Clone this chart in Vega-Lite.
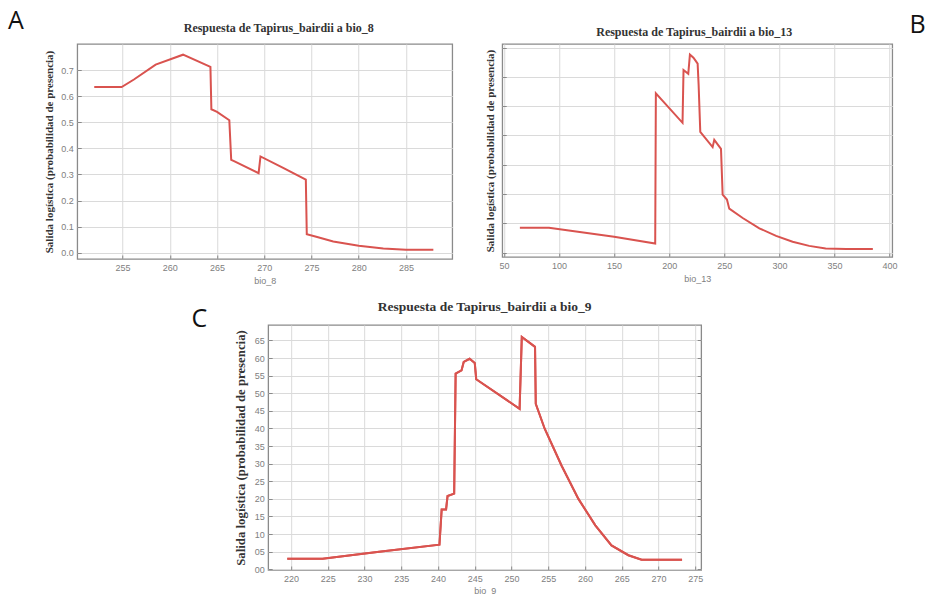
{
  "$schema": "https://vega.github.io/schema/vega-lite/v6.json",
  "background": "white",
  "padding": {"left": 8, "top": 9, "right": 0, "bottom": 0},
  "datasets": {
    "bio8": [
      {"x": 252.0, "y": 0.635}, {"x": 254.9, "y": 0.635}, {"x": 256.2, "y": 0.664}, {"x": 258.5, "y": 0.721},
      {"x": 261.4, "y": 0.759}, {"x": 264.3, "y": 0.712}, {"x": 264.4, "y": 0.550}, {"x": 265.0, "y": 0.540},
      {"x": 266.3, "y": 0.508}, {"x": 266.5, "y": 0.356}, {"x": 266.8, "y": 0.351}, {"x": 269.4, "y": 0.305},
      {"x": 269.6, "y": 0.369}, {"x": 272.0, "y": 0.325}, {"x": 274.4, "y": 0.280}, {"x": 274.5, "y": 0.071},
      {"x": 275.6, "y": 0.060}, {"x": 277.3, "y": 0.043}, {"x": 280.0, "y": 0.027}, {"x": 282.6, "y": 0.016},
      {"x": 285.0, "y": 0.011}, {"x": 287.9, "y": 0.011}
    ],
    "bio13": [
      {"x": 64.5, "y": 0.085}, {"x": 90.9, "y": 0.085}, {"x": 150.0, "y": 0.054}, {"x": 187.3, "y": 0.031},
      {"x": 187.9, "y": 0.544}, {"x": 212.1, "y": 0.443}, {"x": 213.0, "y": 0.623}, {"x": 217.3, "y": 0.610},
      {"x": 218.8, "y": 0.676}, {"x": 222.0, "y": 0.665}, {"x": 225.8, "y": 0.645}, {"x": 226.7, "y": 0.573},
      {"x": 228.2, "y": 0.412}, {"x": 239.4, "y": 0.360}, {"x": 240.9, "y": 0.385}, {"x": 247.0, "y": 0.354},
      {"x": 248.5, "y": 0.198}, {"x": 252.4, "y": 0.181}, {"x": 254.5, "y": 0.150}, {"x": 266.7, "y": 0.118},
      {"x": 281.8, "y": 0.083}, {"x": 297.0, "y": 0.057}, {"x": 312.0, "y": 0.037}, {"x": 327.0, "y": 0.023},
      {"x": 342.0, "y": 0.014}, {"x": 360.6, "y": 0.012}, {"x": 384.8, "y": 0.012}
    ],
    "bio9": [
      {"x": 219.5, "y": 0.030}, {"x": 224.3, "y": 0.030}, {"x": 232.0, "y": 0.050}, {"x": 240.2, "y": 0.070},
      {"x": 240.5, "y": 0.170}, {"x": 241.1, "y": 0.170}, {"x": 241.3, "y": 0.208}, {"x": 242.2, "y": 0.215},
      {"x": 242.4, "y": 0.556}, {"x": 243.2, "y": 0.565}, {"x": 243.5, "y": 0.589}, {"x": 244.3, "y": 0.598},
      {"x": 245.0, "y": 0.586}, {"x": 245.2, "y": 0.540}, {"x": 251.1, "y": 0.456}, {"x": 251.4, "y": 0.660},
      {"x": 253.2, "y": 0.632}, {"x": 253.3, "y": 0.470}, {"x": 254.5, "y": 0.400}, {"x": 256.8, "y": 0.295},
      {"x": 259.1, "y": 0.200}, {"x": 261.4, "y": 0.125}, {"x": 263.6, "y": 0.068}, {"x": 265.9, "y": 0.040},
      {"x": 267.7, "y": 0.027}, {"x": 268.6, "y": 0.027}, {"x": 273.2, "y": 0.027}
    ]
  },
  "config": {
    "view": {"stroke": "#8a8a8a", "strokeWidth": 1.3},
    "axis": {
      "grid": true, "gridColor": "#dadada", "gridWidth": 1, "domain": false,
      "tickColor": "#8a8a8a", "tickSize": -4, "labelPadding": 8,
      "labelColor": "#808080", "labelFont": "Liberation Sans", "labelFontSize": 9,
      "titleColor": "#808080", "titleFont": "Liberation Sans", "titleFontSize": 9, "titleFontWeight": "normal"
    },
    "axisY": {"titleFont": "Liberation Serif", "titleFontWeight": "bold", "titleColor": "#333333", "titleFontSize": 11},
    "title": {"font": "Liberation Serif", "fontWeight": "bold", "fontSize": 12, "color": "#333333"},
    "line": {"color": "#d9534f", "strokeWidth": 2}
  },
  "center": true,
  "spacing": 12,
  "vconcat": [
    {
      "spacing": 30,
      "hconcat": [
        {
          "title": {"text": "A", "anchor": "start", "font": "Open Sans", "fontWeight": "normal", "fontSize": 25, "color": "#111111", "dx": -35, "dy": 17},
          "vconcat": [
            {
              "title": {"text": "Respuesta de Tapirus_bairdii a bio_8", "offset": 9, "dx": 14},
              "width": 375, "height": 215,
              "data": {"name": "bio8"},
              "mark": {"type": "line"},
              "encoding": {
                "x": {"field": "x", "type": "quantitative", "title": "bio_8",
                      "scale": {"domain": [250.2, 289.9], "nice": false, "zero": false},
                      "axis": {"values": [255, 260, 265, 270, 275, 280, 285]}},
                "y": {"field": "y", "type": "quantitative", "title": "Salida logística (probabilidad de presencia)",
                      "scale": {"domain": [-0.024, 0.80], "nice": false, "zero": false},
                      "axis": {"values": [0, 0.1, 0.2, 0.3, 0.4, 0.5, 0.6, 0.7], "format": ".1f", "titlePadding": 6}}
              }
            }
          ]
        },
        {
          "title": {"text": "B", "anchor": "end", "font": "Open Sans", "fontWeight": "normal", "fontSize": 25, "color": "#111111", "dx": 28, "dy": 17},
          "vconcat": [
            {
              "title": {"text": "Respuesta de Tapirus_bairdii a bio_13", "offset": 5, "dx": -3},
              "width": 390, "height": 213,
              "data": {"name": "bio13"},
              "mark": {"type": "line"},
              "encoding": {
                "x": {"field": "x", "type": "quantitative", "title": "bio_13",
                      "scale": {"domain": [48.5, 402.4], "nice": false, "zero": false},
                      "axis": {"values": [50, 100, 150, 200, 250, 300, 350, 400]}},
                "y": {"field": "y", "type": "quantitative", "title": "Salida logística (probabilidad de presencia)",
                      "scale": {"domain": [-0.015, 0.712], "nice": false, "zero": false},
                      "axis": {"values": [0, 0.1, 0.2, 0.3, 0.4, 0.5, 0.6, 0.7], "labels": false, "titlePadding": 6}}
              }
            }
          ]
        }
      ]
    },
    {
      "title": {"text": "C", "anchor": "start", "font": "Open Sans", "fontWeight": "normal", "fontSize": 25, "color": "#111111", "dx": -42, "dy": 37},
      "vconcat": [
        {
          "title": {"text": "Respuesta de Tapirus_bairdii a bio_9", "offset": 12, "fontSize": 13.5},
          "width": 433, "height": 245,
          "data": {"name": "bio9"},
          "resolve": {"axis": {"y": "independent"}},
          "encoding": {
            "x": {"field": "x", "type": "quantitative", "title": "bio_9",
                  "scale": {"domain": [216.9, 275.8], "nice": false, "zero": false},
                  "axis": {"values": [220, 225, 230, 235, 240, 245, 250, 255, 260, 265, 270, 275], "titlePadding": 3}}
          },
          "layer": [
            {
              "mark": {"type": "line"},
              "encoding": {
                "y": {"field": "y", "type": "quantitative", "title": "Salida logística (probabilidad de presencia)",
                      "scale": {"domain": [-0.002, 0.694], "nice": false, "zero": false},
                      "axis": {"values": [0, 0.05, 0.1, 0.15, 0.2, 0.25, 0.3, 0.35, 0.4, 0.45, 0.5, 0.55, 0.6, 0.65],
                               "labelExpr": "slice(format(datum.value, '.2f'), 2)", "titleFontSize": 12.8, "titlePadding": 7}}
              }
            },
            {
              "mark": {"type": "line"},
              "encoding": {
                "y": {"field": "y", "type": "quantitative",
                      "axis": {"orient": "right", "values": [0, 0.05, 0.1, 0.15, 0.2, 0.25, 0.3, 0.35, 0.4, 0.45, 0.5, 0.55, 0.6, 0.65],
                               "labels": false, "grid": false, "title": null, "minExtent": 33}}
              }
            }
          ]
        }
      ]
    }
  ]
}
